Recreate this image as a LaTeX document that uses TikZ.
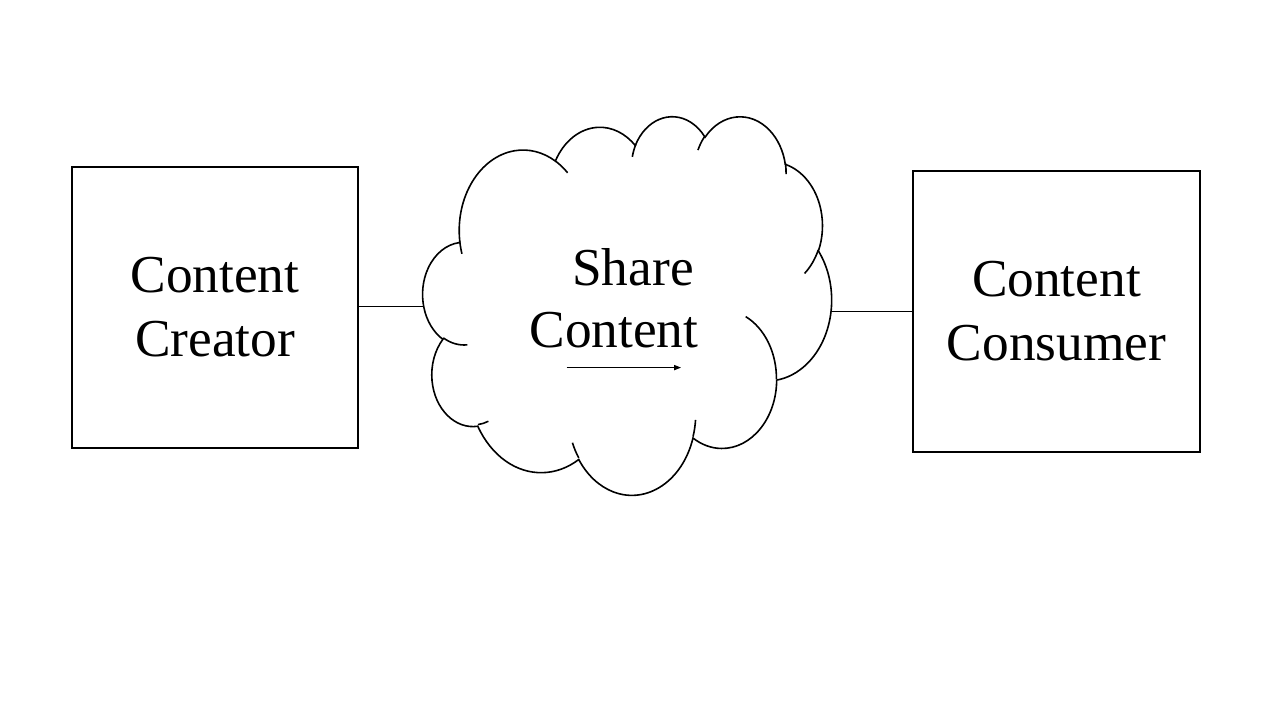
\documentclass[tikz,border=0pt]{standalone}
\usepackage{fontspec}
\setmainfont{Liberation Serif}
\usetikzlibrary{arrows.meta}
% OOXML-style elliptical arc: visual start angle / sweep -> parametric angles
\newcommand\mkarc[5]{%
  \pgfmathsetmacro\mkarcA{atan2(#2*sin(#4),#3*cos(#4))}%
  \pgfmathsetmacro\mkarcB{atan2(#2*sin(#4+#5),#3*cos(#4+#5))}%
  \pgfmathsetmacro\mkarcC{mod(\mkarcB-\mkarcA+720,360)}%
  \expandafter\xdef\csname cs#1\endcsname{\mkarcA}%
  \expandafter\xdef\csname cd#1\endcsname{\mkarcC}%
}
\mkarc{A}{6.753}{9.190}{-190.4875}{123.7805}
\mkarc{B}{5.333}{7.267}{-144.1024}{89.9452}
\mkarc{C}{4.365}{5.945}{-145.8079}{99.7230}
\mkarc{D}{4.857}{6.595}{-130.9861}{117.2417}
\mkarc{E}{5.333}{7.273}{-78.7089}{109.0269}
\mkarc{F}{6.775}{9.220}{-46.2673}{130.2690}
\mkarc{G}{5.785}{7.867}{0.6250}{114.0333}
\mkarc{H}{6.752}{9.215}{22.4516}{115.1726}
\mkarc{I}{7.720}{10.543}{66.2426}{75.7110}
\mkarc{J}{4.360}{5.918}{-274.9421}{146.7356}
\mkarc{K}{4.345}{5.945}{-246.8285}{152.5189}
\mkarc{ta}{4.345}{5.945}{86.742}{26.4295}
\mkarc{tb}{4.360}{5.918}{73.6105}{11.4475}
\mkarc{tc}{6.752}{9.215}{137.6242}{14.0811}
\mkarc{td}{6.752}{9.215}{6.4533}{15.9984}
\mkarc{te}{5.785}{7.867}{-70.2924}{70.9174}
\mkarc{tf}{5.333}{7.273}{30.3180}{27.7515}
\mkarc{tg}{4.857}{6.595}{-13.7443}{14.8589}
\mkarc{th}{4.857}{6.595}{-149.1815}{18.1954}
\mkarc{ti}{4.365}{5.945}{-163.4943}{17.6864}
\mkarc{tj}{6.753}{9.190}{-66.7070}{12.3194}
\mkarc{tk}{6.753}{9.190}{157.6544}{11.8582}
\begin{document}
\begin{tikzpicture}[x=0.75pt,y=-0.75pt,
  box/.style={draw=black, line width=1.5pt, fill=white, align=center,
    font=\fontsize{40pt}{48pt}\selectfont, inner sep=0pt},
  cloudline/.style={draw=black, line width=1.2pt},
  link/.style={draw=black, line width=0.75pt},
  cloudtext/.style={font=\fontsize{40pt}{48pt}\selectfont, inner sep=0pt, anchor=base}]
\useasboundingbox[fill=white] (0,0) rectangle (1280,720);
% boxes
\node[box, minimum width=214.5pt, minimum height=210.75pt] (creator) at (215,307.5) {Content\\Creator};
\node[box, minimum width=215.25pt, minimum height=210.75pt] (consumer) at (1056.5,311.5) {Content\\Consumer};
% cloud
\begin{scope}[shift={(422.9,115.5)}, xscale=9.458, yscale=8.761]
\draw[cloudline, fill=white] (3.9,14.37)
  arc[x radius=6.753, y radius=9.190, start angle=\csA, delta angle=\cdA]
  arc[x radius=5.333, y radius=7.267, start angle=\csB, delta angle=\cdB]
  arc[x radius=4.365, y radius=5.945, start angle=\csC, delta angle=\cdC]
  arc[x radius=4.857, y radius=6.595, start angle=\csD, delta angle=\cdD]
  arc[x radius=5.333, y radius=7.273, start angle=\csE, delta angle=\cdE]
  arc[x radius=6.775, y radius=9.220, start angle=\csF, delta angle=\cdF]
  arc[x radius=5.785, y radius=7.867, start angle=\csG, delta angle=\cdG]
  arc[x radius=6.752, y radius=9.215, start angle=\csH, delta angle=\cdH]
  arc[x radius=7.720, y radius=10.543, start angle=\csI, delta angle=\cdI]
  arc[x radius=4.360, y radius=5.918, start angle=\csJ, delta angle=\cdJ]
  arc[x radius=4.345, y radius=5.945, start angle=\csK, delta angle=\cdK]
  -- cycle;
\draw[cloudline] (4.693,26.177) arc[x radius=4.345, y radius=5.945, start angle=\csta, delta angle=\cdta];
\draw[cloudline] (6.928,34.899) arc[x radius=4.360, y radius=5.918, start angle=\cstb, delta angle=\cdtb];
\draw[cloudline] (16.478,39.090) arc[x radius=6.752, y radius=9.215, start angle=\cstc, delta angle=\cdtc];
\draw[cloudline] (28.827,34.751) arc[x radius=6.752, y radius=9.215, start angle=\cstd, delta angle=\cdtd];
\draw[cloudline] (34.129,22.954) arc[x radius=5.785, y radius=7.867, start angle=\cste, delta angle=\cdte];
\draw[cloudline] (41.798,15.354) arc[x radius=5.333, y radius=7.273, start angle=\cstf, delta angle=\cdtf];
\draw[cloudline] (38.324,5.426) arc[x radius=4.857, y radius=6.595, start angle=\cstg, delta angle=\cdtg];
\draw[cloudline] (29.078,3.952) arc[x radius=4.857, y radius=6.595, start angle=\csth, delta angle=\cdth];
\draw[cloudline] (22.141,4.720) arc[x radius=4.365, y radius=5.945, start angle=\csti, delta angle=\cdti];
\draw[cloudline] (14.000,5.192) arc[x radius=6.753, y radius=9.190, start angle=\cstj, delta angle=\cdtj];
\draw[cloudline] (4.127,15.789) arc[x radius=6.753, y radius=9.190, start angle=\cstk, delta angle=\cdtk];
\end{scope}
% cloud text
\node[cloudtext] (share) at (633,285) {Share};
\node[cloudtext] (sharecontent) at (614,347.3) {Content};
% arrow inside cloud
\coordinate (arrowstart) at (566.7,367.6);
\coordinate (arrowend) at (681,367.6);
\draw[link, -{Triangle[length=5.25pt,width=3.9pt]}] (arrowstart) -- (arrowend);
% connectors
\coordinate (cloudleft) at (422.6,306.7);
\coordinate (cloudright) at (832,311.5);
\draw[link] (creator.east |- cloudleft) -- (cloudleft);
\draw[link] (cloudright) -- (consumer.west);
\end{tikzpicture}
\end{document}
